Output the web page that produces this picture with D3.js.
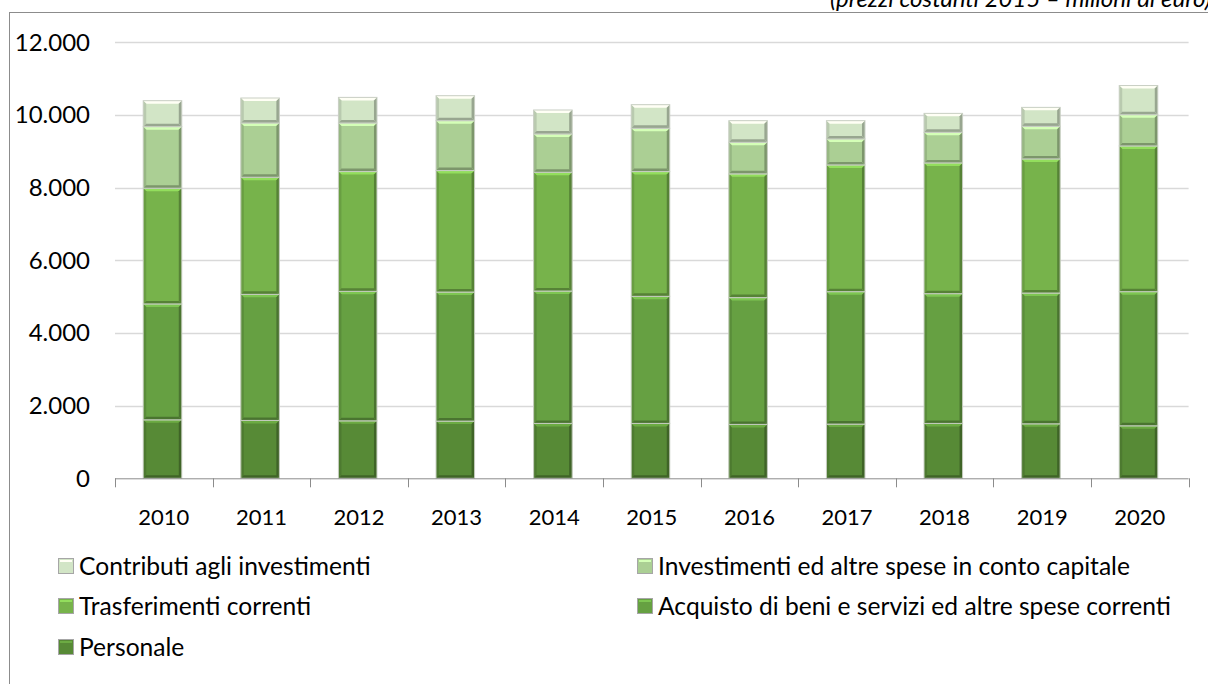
<!DOCTYPE html>
<html>
<head>
<meta charset="utf-8">
<script src="https://cdn.jsdelivr.net/npm/d3@7"></script>
<style>
  html, body { margin: 0; padding: 0; background: #fff; }
  svg { display: block; font-family: Lato, "Open Sans", sans-serif; }
</style>
</head>
<body>
<svg id="chart" width="1208" height="684"></svg>
<script>
// Years on the category axis
const years = ["2010", "2011", "2012", "2013", "2014", "2015", "2016", "2017", "2018", "2019", "2020"];

// Spending components (constant 2015 prices, millions of euro), stacked bottom to top
const personale     = [1610, 1593, 1582, 1574, 1511, 1511, 1484, 1492, 1511, 1500, 1445];
const acquisto      = [3190, 3470, 3564, 3552, 3643, 3497, 3489, 3645, 3571, 3599, 3692];
const trasferimenti = [3184, 3223, 3296, 3344, 3269, 3434, 3406, 3489, 3599, 3692, 4011];
const investimenti  = [1695, 1494, 1338, 1373, 1055, 1190,  868,  715,  841,  896,  860];
const contributi    = [ 714,  687,  704,  687,  659,  651,  596,  502,  522,  522,  802];

// Series names (stack order) and y-axis ticks
const seriesNames = [
  "Personale",
  "Acquisto di beni e servizi ed altre spese correnti",
  "Trasferimenti correnti",
  "Investimenti ed altre spese in conto capitale",
  "Contributi agli investimenti"
];
const yTicks = [0, 2000, 4000, 6000, 8000, 10000, 12000];
const subtitle = "(prezzi costanti 2015 \u2013 milioni di euro)";

const colors = ["#578a36", "#66a042", "#77b34b", "#abcf94", "#d2e5c6"];
const seriesValues = [personale, acquisto, trasferimenti, investimenti, contributi];

const rows = years.map((y, i) => {
  const r = { year: y };
  seriesNames.forEach((s, k) => r[s] = seriesValues[k][i]);
  return r;
});

const svg = d3.select("#chart");

// Outer chart frame (extends past the right/bottom edge of the view)
svg.append("rect")
  .attr("x", 9.5).attr("y", 12.5)
  .attr("width", 1230).attr("height", 700)
  .attr("fill", "none").attr("stroke", "#8c8c8c").attr("stroke-width", 1);

// Unit note, partly above the frame
svg.append("text")
  .attr("x", 830).attr("y", 7)
  .attr("font-size", 24).attr("font-style", "italic")
  .attr("fill", "#000")
  .text(subtitle);

const plot = { left: 115, right: 1188.6, top: 42.3, bottom: 478.3 };

const x = d3.scaleBand().domain(years).range([plot.left, plot.right]).padding(0);
const y = d3.scaleLinear().domain([0, 12000]).range([plot.bottom, plot.top]);

// Horizontal gridlines
svg.append("g").selectAll("line")
  .data(yTicks.filter(t => t > 0))
  .join("line")
  .attr("x1", plot.left).attr("x2", plot.right)
  .attr("y1", d => Math.round(y(d)) + 0.5).attr("y2", d => Math.round(y(d)) + 0.5)
  .attr("stroke", "#d9d9d9").attr("stroke-width", 1.5);

// Y tick labels
const fmt = d3.formatLocale({ decimal: ",", thousands: ".", grouping: [3], currency: ["", "€"] }).format(",.0f");
svg.append("g").selectAll("text")
  .data(yTicks)
  .join("text")
  .attr("x", 90).attr("y", d => y(d))
  .attr("dy", "0.35em")
  .attr("text-anchor", "end")
  .attr("font-size", 24)
  .attr("fill", "#000")
  .text(d => fmt(d));

// Stacked bars with bevelled segments
const stack = d3.stack().keys(seriesNames)(rows);
const bw = x.step() * 0.395;

const layers = svg.append("g").selectAll("g")
  .data(stack)
  .join("g");

layers.each(function(layer, k) {
  const base = d3.color(colors[k]);
  const light = base.brighter(0.6).formatHex();
  const dark = base.darker(0.9).formatHex();
  const mid = base.darker(0.35).formatHex();
  const g = d3.select(this);
  layer.forEach(d => {
    const x0 = x(d.data.year) + x.step() / 2 - bw / 2 - 1.3;
    const y0 = y(d[1]);
    const y1 = y(d[0]);
    const h = y1 - y0;
    const seg = g.append("g");
    seg.append("rect")
      .attr("x", x0).attr("y", y0)
      .attr("width", bw).attr("height", h)
      .attr("fill", colors[k]);
    const b = 3;
    // top bevel (highlight)
    seg.append("path")
      .attr("d", `M${x0},${y0}L${x0 + bw},${y0}L${x0 + bw - b},${y0 + b}L${x0 + b},${y0 + b}Z`)
      .attr("fill", light);
    // left bevel
    seg.append("path")
      .attr("d", `M${x0},${y0}L${x0 + b},${y0 + b}L${x0 + b},${y1 - b}L${x0},${y1}Z`)
      .attr("fill", mid);
    // right bevel (shadow)
    seg.append("path")
      .attr("d", `M${x0 + bw},${y0}L${x0 + bw},${y1}L${x0 + bw - b},${y1 - b}L${x0 + bw - b},${y0 + b}Z`)
      .attr("fill", dark);
    // bottom bevel (shadow)
    seg.append("path")
      .attr("d", `M${x0},${y1}L${x0 + bw},${y1}L${x0 + bw - b},${y1 - b}L${x0 + b},${y1 - b}Z`)
      .attr("fill", dark);
    // thin outline
    seg.append("rect")
      .attr("x", x0).attr("y", y0)
      .attr("width", bw).attr("height", h)
      .attr("fill", "none").attr("stroke", "#c9cfc4").attr("stroke-width", 1);
  });
});

// X axis line with tick marks at category boundaries
const axisG = svg.append("g");
axisG.append("line")
  .attr("x1", plot.left).attr("x2", plot.right)
  .attr("y1", plot.bottom + 0.5).attr("y2", plot.bottom + 0.5)
  .attr("stroke", "#8c8c8c").attr("stroke-width", 1);
const boundaries = years.map(yv => x(yv)).concat([plot.right]);
axisG.selectAll("line.tick")
  .data(boundaries)
  .join("line")
  .attr("class", "tick")
  .attr("x1", d => Math.round(d) + 0.5).attr("x2", d => Math.round(d) + 0.5)
  .attr("y1", plot.bottom).attr("y2", plot.bottom + 9)
  .attr("stroke", "#8c8c8c").attr("stroke-width", 1);
axisG.selectAll("text")
  .data(years)
  .join("text")
  .attr("x", d => x(d) + x.step() / 2)
  .attr("y", 517)
  .attr("dy", "0.35em")
  .attr("text-anchor", "middle")
  .attr("font-size", 22)
  .attr("fill", "#000")
  .text(d => d);

// Legend: two columns, top-layer series first
const legendItems = [
  { k: 4, col: 0, row: 0 },
  { k: 3, col: 1, row: 0 },
  { k: 2, col: 0, row: 1 },
  { k: 1, col: 1, row: 1 },
  { k: 0, col: 0, row: 2 }
];
const colX = [58, 637];
const rowY = [566, 606, 647];
const leg = svg.append("g").selectAll("g")
  .data(legendItems)
  .join("g")
  .attr("transform", d => `translate(${colX[d.col]},${rowY[d.row]})`);
leg.append("rect")
  .attr("x", 0.5).attr("y", -7.5)
  .attr("width", 15).attr("height", 15)
  .attr("fill", d => colors[d.k])
  .attr("stroke", "#a6a6a6").attr("stroke-width", 1);
leg.append("rect")
  .attr("x", 2).attr("y", -6)
  .attr("width", 12).attr("height", 2)
  .attr("fill", d => d3.color(colors[d.k]).brighter(0.6).formatHex());
leg.append("text")
  .attr("x", 21).attr("y", 0)
  .attr("dy", "0.35em")
  .attr("font-size", 24.6)
  .attr("fill", "#000")
  .text(d => seriesNames[d.k]);
</script>
</body>
</html>
